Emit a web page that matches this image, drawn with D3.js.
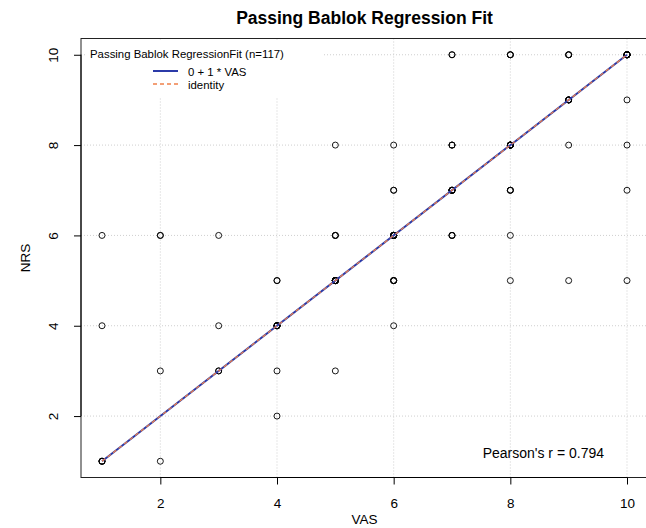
<!DOCTYPE html>
<html>
<head>
<meta charset="utf-8">
<script src="https://cdn.jsdelivr.net/npm/d3@7"></script>
<style>
	body { margin: 0; background: #fff; }
	text { font-family: "Liberation Sans", Arial, Helvetica, sans-serif; fill: #000; }
</style>
</head>
<body>
<div id="chart"></div>
<script>
// observed pairs (VAS, NRS) and how many subjects share each pair
var vasVals = [10, 9, 8, 7,  9, 10,  5, 6, 7, 8, 9, 10,  6, 7, 8, 10,  1, 2, 3, 5, 6, 7, 8,  4, 5, 6, 8, 9, 10,  1, 3, 4, 6,  2, 3, 4, 5,  4,  1, 2];
var nrsVals = [10, 10, 10, 10,  9, 9,  8, 8, 8, 8, 8, 8,  7, 7, 7, 7,  6, 6, 6, 6, 6, 6, 6,  5, 5, 5, 5, 5, 5,  4, 4, 4, 4,  3, 3, 3, 3,  2,  1, 1];
var counts  = [14, 3, 3, 2,  5, 1,  1, 1, 3, 9, 1, 1,  2, 7, 3, 1,  1, 2, 1, 3, 9, 3, 1,  2, 10, 4, 1, 1, 1,  1, 1, 7, 1,  1, 2, 1, 1,  1,  4, 1];

var ticks = [2, 4, 6, 8, 10];
var intercept = 0, slope = 1;
var pearson = "0.794";

var points = [];
vasVals.forEach(function(v, i) {
	for (var k = 0; k < counts[i]; k++) points.push({ vas: v, nrs: nrsVals[i] });
});

var width = 646, height = 528;
var pLeft = 81, pRight = 648, pTop = 38.5, pBottom = 477.5;

var svg = d3.select("#chart").append("svg")
	.attr("width", width)
	.attr("height", height);

// R style: 4% padding around data range
var x = d3.scaleLinear().domain([0.64, 10.36]).range([pLeft, pRight]);
var y = d3.scaleLinear().domain([0.64, 10.36]).range([pBottom, pTop]);

// grid
svg.append("g").selectAll("line")
	.data(ticks).enter().append("line")
	.attr("x1", function(d) { return x(d); })
	.attr("x2", function(d) { return x(d); })
	.attr("y1", pTop).attr("y2", pBottom)
	.attr("stroke", "#cfcfcf").attr("stroke-width", 1)
	.attr("stroke-dasharray", "1,2");

svg.append("g").selectAll("line")
	.data(ticks).enter().append("line")
	.attr("y1", function(d) { return y(d); })
	.attr("y2", function(d) { return y(d); })
	.attr("x1", pLeft).attr("x2", pRight)
	.attr("stroke", "#cfcfcf").attr("stroke-width", 1)
	.attr("stroke-dasharray", "1,2");

// legend background
svg.append("rect")
	.attr("x", 86).attr("y", 40)
	.attr("width", 236).attr("height", 58)
	.attr("fill", "#fff");

// points
svg.append("g").selectAll("circle")
	.data(points).enter().append("circle")
	.attr("cx", function(d) { return x(d.vas); })
	.attr("cy", function(d) { return y(d.nrs); })
	.attr("r", 3)
	.attr("fill", "none")
	.attr("stroke", "#000")
	.attr("stroke-width", 0.9);

// regression and identity lines over the data range
var xr = d3.extent(vasVals);
svg.append("line")
	.attr("x1", x(xr[0])).attr("y1", y(intercept + slope * xr[0]))
	.attr("x2", x(xr[1])).attr("y2", y(intercept + slope * xr[1]))
	.attr("stroke", "#2b3aa8").attr("stroke-width", 2);

svg.append("line")
	.attr("x1", x(xr[0])).attr("y1", y(xr[0]))
	.attr("x2", x(xr[1])).attr("y2", y(xr[1]))
	.attr("stroke", "#f0804a").attr("stroke-width", 1.2)
	.attr("stroke-dasharray", "4,3");

// box
svg.append("rect")
	.attr("x", pLeft).attr("y", pTop)
	.attr("width", pRight - pLeft).attr("height", pBottom - pTop)
	.attr("fill", "none").attr("stroke", "#222").attr("stroke-width", 1);

// axes
var xAxis = d3.axisBottom(x).tickValues(ticks).tickSize(7).tickPadding(14);
var gx = svg.append("g").attr("transform", "translate(0," + pBottom + ")").call(xAxis);
gx.select(".domain").attr("d", "M" + x(2) + ",0H" + x(10));
gx.selectAll("text").style("font-size", "13.5px").attr("fill", "#000");

var yAxis = d3.axisLeft(y).tickValues(ticks).tickSize(7).tickPadding(9);
var gy = svg.append("g").attr("transform", "translate(" + pLeft + ",0)").call(yAxis);
gy.select(".domain").attr("d", "M0," + y(2) + "V" + y(10));
gy.selectAll(".tick text")
	.style("font-size", "13.5px").attr("fill", "#000")
	.attr("text-anchor", "middle")
	.attr("x", 0).attr("dy", 0)
	.attr("transform", "translate(-23,0) rotate(-90)");

// titles
svg.append("text")
	.attr("x", (pLeft + pRight) / 2).attr("y", 24)
	.attr("text-anchor", "middle")
	.style("font-size", "17.5px").style("font-weight", "bold")
	.text("Passing Bablok Regression Fit");

svg.append("text")
	.attr("x", (pLeft + pRight) / 2).attr("y", 524)
	.attr("text-anchor", "middle")
	.style("font-size", "13.5px")
	.text("VAS");

svg.append("text")
	.attr("transform", "translate(29.5," + ((pTop + pBottom) / 2) + ") rotate(-90)")
	.attr("text-anchor", "middle")
	.style("font-size", "13.5px")
	.text("NRS");

// legend
svg.append("text")
	.attr("x", 90).attr("y", 58)
	.style("font-size", "11.4px")
	.text("Passing Bablok RegressionFit (n=" + points.length + ")");

var legendItems = [
	{ label: intercept + " + " + slope + " * VAS", color: "#2b3aa8", dash: null, w: 2 },
	{ label: "identity", color: "#f0804a", dash: "4,3", w: 1.5 }
];
var lg = svg.append("g").selectAll("g")
	.data(legendItems).enter().append("g")
	.attr("transform", function(d, i) { return "translate(0," + (71 + i * 13) + ")"; });
lg.append("line")
	.attr("x1", 153).attr("x2", 178)
	.attr("stroke", function(d) { return d.color; })
	.attr("stroke-width", function(d) { return d.w; })
	.attr("stroke-dasharray", function(d) { return d.dash; });
lg.append("text")
	.attr("x", 188).attr("y", 4.5)
	.style("font-size", "11.4px")
	.text(function(d) { return d.label; });

svg.append("text")
	.attr("x", 604).attr("y", 458)
	.attr("text-anchor", "end")
	.style("font-size", "14px")
	.text("Pearson's r = " + pearson);
</script>
</body>
</html>
